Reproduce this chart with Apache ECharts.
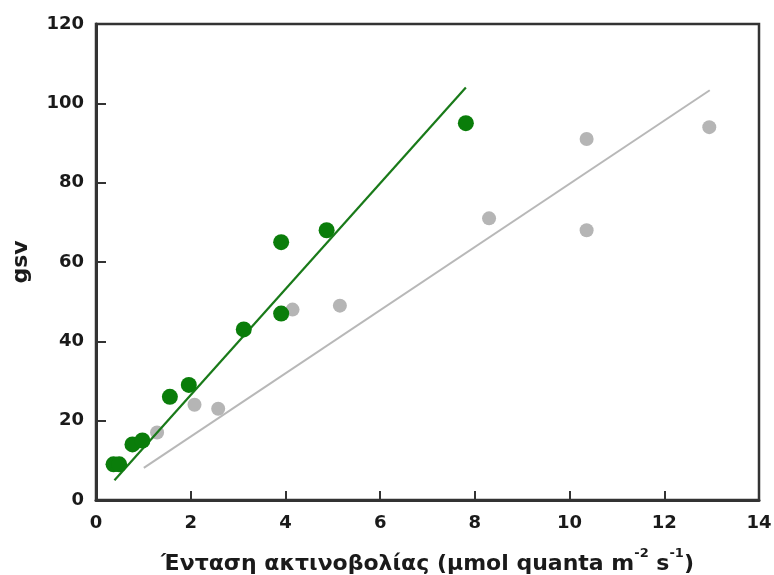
<!DOCTYPE html>
<html>
<head>
<meta charset="utf-8">
<script src="https://cdn.jsdelivr.net/npm/echarts@6/dist/echarts.min.js"></script>
<style>html,body{margin:0;padding:0;background:#fff}#c{width:774px;height:575px}</style>
</head>
<body>
<div id="c"></div>
<script>
var xTicks = [0, 2, 4, 6, 8, 10, 12, 14];
var yTicks = [0, 20, 40, 60, 80, 100, 120];

var greenPoints = [
  [0.37, 9], [0.49, 9], [0.77, 14], [0.98, 15], [1.56, 26], [1.96, 29],
  [3.12, 43], [3.91, 47], [3.91, 65], [4.87, 68], [7.81, 95]
];
var grayPoints = [
  [1.29, 17], [2.08, 24], [2.58, 23], [4.15, 48], [5.15, 49],
  [8.30, 71], [10.36, 91], [10.36, 68], [12.95, 94]
];
var greenLine = [[0.39, 5.0], [7.81, 104]];
var grayLine = [[1.01, 8.1], [12.96, 103.3]];

var font = 'DejaVu Sans';
var chart = echarts.init(document.getElementById('c'));
chart.setOption({
  animation: false,
  backgroundColor: '#fff',
  grid: { left: 96, right: 15, top: 24, bottom: 75, containLabel: false, outerBoundsMode: 'none', show: true, borderColor: '#333', borderWidth: 2.5, backgroundColor: 'transparent' },
  xAxis: {
    type: 'value', min: xTicks[0], max: xTicks[xTicks.length - 1], interval: 2,
    axisLine: { show: true, onZero: false, lineStyle: { color: '#333', width: 3 } },
    axisTick: { show: true, inside: true, length: 9, lineStyle: { color: '#333', width: 2 } },
    splitLine: { show: false },
    axisLabel: { color: '#1a1a1a', fontFamily: font, fontWeight: 'bold', fontSize: 18, margin: 14 },
    name: '{a|Ένταση ακτινοβολίας (μmol quanta m}{s|-2}{a| s}{s|-1}{a|)}',
    nameLocation: 'middle', nameGap: 47,
    nameTextStyle: {
      rich: {
        a: { fontFamily: font, fontWeight: 'bold', fontSize: 22, color: '#1a1a1a', verticalAlign: 'bottom', lineHeight: 28 },
        s: { fontFamily: font, fontWeight: 'bold', fontSize: 13, color: '#1a1a1a', verticalAlign: 'top', lineHeight: 28 }
      }
    }
  },
  yAxis: {
    type: 'value', min: yTicks[0], max: yTicks[yTicks.length - 1], interval: 20,
    axisLine: { show: true, onZero: false, lineStyle: { color: '#333', width: 3 } },
    axisTick: { show: true, inside: true, length: 10, lineStyle: { color: '#333', width: 2 } },
    splitLine: { show: false },
    axisLabel: { color: '#1a1a1a', fontFamily: font, fontWeight: 'bold', fontSize: 18, margin: 12 },
    name: 'gsv', nameLocation: 'middle', nameGap: 64,
    nameTextStyle: { fontFamily: font, fontWeight: 'bold', fontSize: 22, color: '#1a1a1a' }
  },
  series: [
    { type: 'line', data: grayLine, symbol: 'none', lineStyle: { color: '#b8b8b8', width: 2 }, z: 2 },
    { type: 'scatter', data: grayPoints, symbolSize: 14, itemStyle: { color: '#b5b5b5', opacity: 1 }, z: 3 },
    { type: 'line', data: greenLine, symbol: 'none', lineStyle: { color: '#197a19', width: 2.2 }, z: 4 },
    { type: 'scatter', data: greenPoints, symbolSize: 16, itemStyle: { color: '#0a7d0a', opacity: 1 }, z: 5 }
  ]
});
</script>
</body>
</html>
